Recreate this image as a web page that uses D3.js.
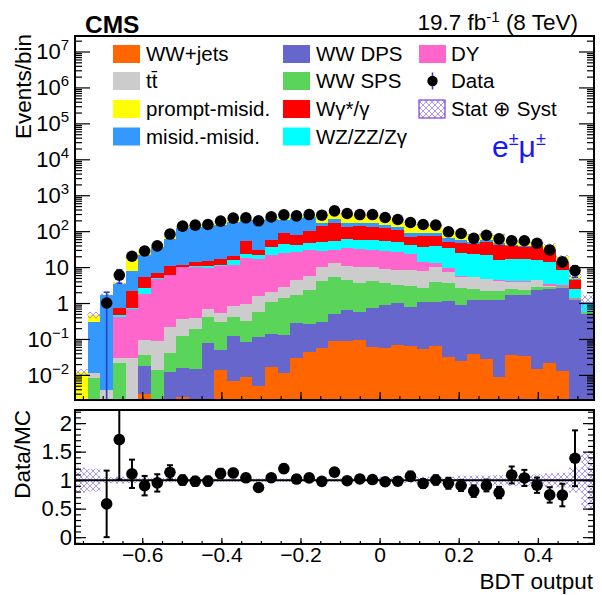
<!DOCTYPE html>
<html><head><meta charset="utf-8">
<script src="https://cdn.jsdelivr.net/npm/d3@7"></script>
<style>
body{margin:0;background:#fff;}
svg text{font-family:"Liberation Sans",Arial,Helvetica,sans-serif;}
</style>
</head><body>
<svg id="c" width="602" height="595"></svg>
<script>
// ---- binning ----
const binLow = -0.77, binWidth = 0.032, nBins = 41;

// ---- stacked backgrounds (events/bin), bottom -> top ----
const wwJets = [0,0,0,0,0,0.003,0,0,0.0025,0,0,0.0135,0.0069,0.0088,0.005,0.0167,0.0114,0.03,0.044,0.055,0.088,0.085,0.092,0.058,0.055,0.068,0.065,0.051,0.065,0.032,0.024,0.038,0.028,0.009,0.035,0.033,0.015,0.021,0.0125,0.0022,0];
const wwDPS = [0,0,0,0,0,0.0148,0,0.0123,0.0131,0.0147,0.079,0.0365,0.113,0.076,0.11,0.118,0.119,0.25,0.216,0.25,0.41,0.535,0.478,0.66,0.835,0.92,0.735,1.05,0.99,1.14,0.87,1.18,1.19,1.21,1.65,1.66,2.285,2.38,2.54,1.2,0.5];
const wwSPS = [0,0.008,0,0.022,0,0.018,0.0138,0.0277,0.1045,0.175,0.341,0.24,0.28,0.235,0.455,0.955,1.22,1.39,2.04,3.7,4.9,3.88,3.13,3.38,2.61,2.17,2.16,1.45,2.85,2.33,1.66,1.18,0.93,0.93,0.71,0.61,0.42,0.32,0.17,0.08,0.05];
const ttbar = [0,0.003,0.0038,0.007,0.029,0.057,0.076,0.18,0.24,0.19,0.27,0.23,0.43,0.64,1.04,0.9,1.49,2.73,3.3,6.0,7.8,6.2,6.5,5.7,5.1,5.14,5.34,5.35,5.9,3.9,2.85,2.8,2.45,2.05,1.5,1.6,1.63,0.24,0.12,0.05,0];
const dy = [0,0,0,0.37,0.67,1.65,4.71,5.78,9.44,9.42,8.9,10.1,10.6,17.5,14.7,19.5,22.2,22.3,24.1,18,16.4,22.3,21.4,19.8,19.8,18.4,14.7,6.2,3.4,2.2,0.2,0.2,0.2,0.15,0.2,0.1,0.15,0.34,0.32,0.05,0];
const wzzz = [0,0,0,0.07,0.05,0.81,0.2,0.1,0.3,0.8,1.0,0.8,4.2,4.5,5.2,15,18.5,14.1,15.8,22,23.1,25.7,24.6,26.6,24.3,23.9,17.8,22.6,25.1,23.4,18.4,17.6,16.7,11.25,12.2,12.3,11.1,10.8,5.1,1.15,0.45];
const wgamma = [0,0,0,0.24,1.4,2.85,1.9,4.5,1.3,3.5,4.1,4.9,4.6,29.7,8.2,19.5,46,36.8,54.5,86,117,73.3,79.8,75.8,66.3,56.4,28.9,35.9,34.3,17.6,21.4,20.6,29.1,25.2,22,20.4,22.7,15.5,5.8,1.85,0];
const misidMisid = [0,0.29,1.65,2.7,5.75,16.6,30.1,49.4,113.6,118,125,133.7,160,147,170,159,120.5,157.4,155,34,42,33,34,33,30,27,17,18,18,13,11,5,6,5,1.7,2,1.7,1.4,0.9,0.4,0.05];
const promptMisid = [0.012,0.17,0.06,0.1,10.1,9,4,13,13,18,16,20,24,26,23,25,27,27,24,114,110,148,114,122,98,81,76,72,56,38,38.5,29.4,28.4,32.2,9.5,13.3,10.5,9.5,4,1.0,0.05];

// ---- observed data (events/bin) ----
const dataCounts = [0,0,1,6,20,28,39,83,138,147,153,190,230,235,194,250,285,267,290,278,367,310,290,290,240,211,174,153,147,96,86,63,77,61,54,54,46,30,14,8,0];
// ---- relative stat (+) syst uncertainty on the total prediction ----
const relErr = [0.22,0.2,0.05,0.06,0.05,0.04,0.04,0.04,0.03,0.03,0.03,0.03,0.03,0.03,0.03,0.03,0.03,0.03,0.03,0.03,0.03,0.04,0.04,0.07,0.06,0.05,0.05,0.06,0.05,0.06,0.08,0.08,0.08,0.09,0.1,0.1,0.1,0.12,0.13,0.22,0.5];

// ---- ticks / labels ----
const xTicks = [-0.6,-0.4,-0.2,0,0.2,0.4];
const yExps = [-2,-1,0,1,2,3,4,5,6,7];
const ratioTicks = [0,0.5,1,1.5,2];
const ratioTickLabels = ["0","0.5","1","1.5","2"];

const keys = ["wwjets","dps","sps","ttbar","dy","vv","wg","mm","pm"];
const seriesVals = [wwJets,wwDPS,wwSPS,ttbar,dy,wzzz,wgamma,misidMisid,promptMisid];
const colors = {wwjets:"#ff6600",dps:"#6666cc",sps:"#5ad55a",ttbar:"#cccccc",dy:"#ff66cc",vv:"#00ffff",wg:"#ff0000",mm:"#3399ff",pm:"#ffff00"};

const svg = d3.select("#c");
svg.append("rect").attr("width",602).attr("height",595).attr("fill","#fff");
const L=75,R=594,T=36,B=400,RT=410,RB=544;
const FONT = "Liberation Sans, Arial, sans-serif";

const x = d3.scaleLinear().domain([binLow, binLow+nBins*binWidth]).range([L,R]);
const y = d3.scaleLog().domain([0.002,2.7e7]).range([B,T]).clamp(true);
const yr = d3.scaleLinear().domain([-0.12,2.23]).range([RB,RT]);

const defs = svg.append("defs");
defs.append("clipPath").attr("id","mainClip").append("rect").attr("x",L).attr("y",T).attr("width",R-L).attr("height",B-T);
defs.append("clipPath").attr("id","ratioClip").append("rect").attr("x",L).attr("y",RT).attr("width",R-L).attr("height",RB-RT);
const pat = defs.append("pattern").attr("id","hatch").attr("patternUnits","userSpaceOnUse").attr("width",6).attr("height",6);
pat.append("path").attr("d","M0,0L6,6M6,0L0,6M-1,5L1,7M5,-1L7,1").attr("stroke","#a58cf0").attr("stroke-width",0.9).attr("fill","none");

const rows = d3.range(nBins).map(i=>{const r={i}; keys.forEach((k,j)=>r[k]=seriesVals[j][i]); return r;});
const stacked = d3.stack().keys(keys)(rows);
const total = rows.map((r,i)=>stacked[stacked.length-1][i][1]);

const edge = i => x(binLow + i*binWidth);

// stacked histogram
const gS = svg.append("g").attr("clip-path","url(#mainClip)");
stacked.forEach(s=>{
  gS.append("g").attr("fill",colors[s.key]).selectAll("rect")
    .data(s.filter(d=>d[1]>d[0])).join("rect")
    .attr("shape-rendering","crispEdges")
    .attr("x",d=>edge(d.data.i))
    .attr("width",d=>edge(d.data.i+1)-edge(d.data.i))
    .attr("y",d=>y(d[1]))
    .attr("height",d=>(d[0]>0?y(d[0]):B)-y(d[1]));
});
// uncertainty band (main)
gS.append("g").selectAll("rect").data(d3.range(nBins).filter(i=>total[i]>0)).join("rect")
  .attr("x",i=>edge(i)).attr("width",i=>edge(i+1)-edge(i))
  .attr("y",i=>y(total[i]*(1+relErr[i])))
  .attr("height",i=>y(total[i]*(1-relErr[i]))-y(total[i]*(1+relErr[i])))
  .attr("fill","url(#hatch)");

// data points (main)
const ptsIdx = d3.range(nBins).filter(i=>dataCounts[i]>0);
const cx = i => x(binLow+(i+0.5)*binWidth);
const gD = svg.append("g").attr("clip-path","url(#mainClip)");
ptsIdx.forEach(i=>{
  const n=dataCounts[i], e=Math.sqrt(n);
  const yt=y(n+e), yb=(n-e)>0?y(n-e):B;
  gD.append("line").attr("x1",cx(i)).attr("x2",cx(i)).attr("y1",yt).attr("y2",yb).attr("stroke","#2a3fc8").attr("stroke-width",1.6);
  gD.append("line").attr("x1",cx(i)-3).attr("x2",cx(i)+3).attr("y1",yt).attr("y2",yt).attr("stroke","#2a3fc8").attr("stroke-width",1.6);
  if(n-e>0) gD.append("line").attr("x1",cx(i)-3).attr("x2",cx(i)+3).attr("y1",yb).attr("y2",yb).attr("stroke","#2a3fc8").attr("stroke-width",1.6);
});
gD.selectAll("circle").data(ptsIdx).join("circle").attr("cx",cx).attr("cy",i=>y(dataCounts[i])).attr("r",5.8).attr("fill","#000");

// ---- main axes ----
const minorY=[]; for(let k=-3;k<=7;k++) for(let m=2;m<=9;m++){const v=m*Math.pow(10,k); if(v>0.002&&v<2.7e7) minorY.push(v);}
const majorY = yExps.map(e=>Math.pow(10,e));
function styleAxis(g){ g.select(".domain").remove(); g.selectAll(".tick line").attr("stroke","#000").attr("stroke-width",1.2); }
svg.append("g").attr("transform",`translate(${L},0)`).call(d3.axisLeft(y).tickValues(majorY).tickSize(-15).tickFormat("")).call(styleAxis);
svg.append("g").attr("transform",`translate(${L},0)`).call(d3.axisLeft(y).tickValues(minorY).tickSize(-7).tickFormat("")).call(styleAxis);
svg.append("g").attr("transform",`translate(${R},0)`).call(d3.axisRight(y).tickValues(majorY).tickSize(-15).tickFormat("")).call(styleAxis);
svg.append("g").attr("transform",`translate(${R},0)`).call(d3.axisRight(y).tickValues(minorY).tickSize(-7).tickFormat("")).call(styleAxis);
const minorX = d3.range(-0.75,0.5401,0.05).map(v=>Math.round(v*100)/100);
svg.append("g").attr("transform",`translate(0,${B})`).call(d3.axisBottom(x).tickValues(xTicks).tickSize(-8).tickFormat("")).call(styleAxis);
svg.append("g").attr("transform",`translate(0,${B})`).call(d3.axisBottom(x).tickValues(minorX).tickSize(-4).tickFormat("")).call(styleAxis);

// y labels: 10^n, with "1" and "10" plain
const yl = svg.append("g");
yExps.forEach(e=>{
  const t = yl.append("text").attr("x",69).attr("y",y(Math.pow(10,e))+8).attr("text-anchor","end").attr("font-size",22);
  if(e===0){ t.text("1"); }
  else if(e===1){ t.text("10"); }
  else {
    t.append("tspan").text("10");
    t.append("tspan").attr("font-size",15).attr("dy",-9).text(e<0?"\u2212"+(-e):String(e));
  }
});

svg.append("rect").attr("x",L).attr("y",T).attr("width",R-L).attr("height",B-T).attr("fill","none").attr("stroke","#000").attr("stroke-width",2);

// ---- ratio panel ----
const gR = svg.append("g").attr("clip-path","url(#ratioClip)");
gR.selectAll("rect").data(d3.range(nBins).filter(i=>total[i]>0)).join("rect")
  .attr("x",i=>edge(i)).attr("width",i=>edge(i+1)-edge(i))
  .attr("y",i=>yr(1+relErr[i])).attr("height",i=>yr(1-relErr[i])-yr(1+relErr[i]))
  .attr("fill","url(#hatch)");
gR.append("line").attr("x1",L).attr("x2",R).attr("y1",yr(1)).attr("y2",yr(1)).attr("stroke","#000").attr("stroke-width",2);
ptsIdx.forEach(i=>{
  const r=dataCounts[i]/total[i], e=Math.sqrt(dataCounts[i])/total[i];
  const yt=yr(r+e), yb=yr(r-e);
  gR.append("line").attr("x1",cx(i)).attr("x2",cx(i)).attr("y1",yt).attr("y2",yb).attr("stroke","#000").attr("stroke-width",2);
  [yt,yb].forEach(v=>gR.append("line").attr("x1",cx(i)-3).attr("x2",cx(i)+3).attr("y1",v).attr("y2",v).attr("stroke","#000").attr("stroke-width",2));
  gR.append("circle").attr("cx",cx(i)).attr("cy",yr(r)).attr("r",5.8).attr("fill","#000");
});
const minorR = d3.range(-0.1,2.21,0.1).map(v=>Math.round(v*10)/10);
svg.append("g").attr("transform",`translate(${L},0)`).call(d3.axisLeft(yr).tickValues(ratioTicks).tickSize(-11).tickPadding(3).tickFormat((d,i)=>ratioTickLabels[i])).call(styleAxis)
  .call(g=>g.selectAll("text").attr("font-size",22).attr("font-family",FONT).attr("fill","#000"));
svg.append("g").attr("transform",`translate(${L},0)`).call(d3.axisLeft(yr).tickValues(minorR).tickSize(-6).tickFormat("")).call(styleAxis);
svg.append("g").attr("transform",`translate(${R},0)`).call(d3.axisRight(yr).tickValues(ratioTicks).tickSize(-11).tickFormat("")).call(styleAxis);
svg.append("g").attr("transform",`translate(${R},0)`).call(d3.axisRight(yr).tickValues(minorR).tickSize(-6).tickFormat("")).call(styleAxis);
svg.append("g").attr("transform",`translate(0,${RB})`).call(d3.axisBottom(x).tickValues(xTicks).tickSize(-6).tickPadding(3).tickFormat(d=>d===0?"0":(d<0?"\u2212":"")+Math.abs(d).toFixed(1))).call(styleAxis)
  .call(g=>g.selectAll("text").attr("font-size",21).attr("font-family",FONT).attr("fill","#000"));
svg.append("g").attr("transform",`translate(0,${RB})`).call(d3.axisBottom(x).tickValues(minorX).tickSize(-3).tickFormat("")).call(styleAxis);
svg.append("rect").attr("x",L).attr("y",RT).attr("width",R-L).attr("height",RB-RT).attr("fill","none").attr("stroke","#000").attr("stroke-width",2);

// ---- titles ----
svg.append("text").attr("x",85).attr("y",33).attr("font-size",24.5).attr("font-weight","bold").text("CMS");
const lumi = svg.append("text").attr("x",578).attr("y",30).attr("text-anchor","end").attr("font-size",22.5);
lumi.append("tspan").text("19.7 fb");
lumi.append("tspan").attr("font-size",15).attr("dy",-8).text("-1");
lumi.append("tspan").attr("dy",8).text(" (8 TeV)");
svg.append("text").attr("transform","translate(31,34) rotate(-90)").attr("text-anchor","end").attr("font-size",22.5).text("Events/bin");
svg.append("text").attr("transform","translate(30,410) rotate(-90)").attr("text-anchor","end").attr("font-size",22.5).text("Data/MC");
svg.append("text").attr("x",593).attr("y",589).attr("text-anchor","end").attr("font-size",22.5).text("BDT output");
const em = svg.append("text").attr("x",492).attr("y",157).attr("font-size",30).attr("fill","#1818ff");
em.append("tspan").text("e");
em.append("tspan").attr("font-size",18).attr("dy",-12).text("\u00b1");
em.append("tspan").attr("dy",12).text("\u03bc");
em.append("tspan").attr("font-size",18).attr("dy",-12).text("\u00b1");

// ---- legend ----
const legendRows = [54,81,109,136.5];
const legendCols = [{sx:113,tx:146},{sx:283,tx:316},{sx:419,tx:451}];
const legendItems = [
  {c:0,r:0,key:"wwjets",label:"WW+jets"},
  {c:0,r:1,key:"ttbar",label:"tt\u0304"},
  {c:0,r:2,key:"pm",label:"prompt-misid."},
  {c:0,r:3,key:"mm",label:"misid.-misid."},
  {c:1,r:0,key:"dps",label:"WW DPS"},
  {c:1,r:1,key:"sps",label:"WW SPS"},
  {c:1,r:2,key:"wg",label:"W\u03b3*/\u03b3"},
  {c:1,r:3,key:"vv",label:"WZ/ZZ/Z\u03b3"},
  {c:2,r:0,key:"dy",label:"DY"},
  {c:2,r:1,key:"data",label:"Data"},
  {c:2,r:2,key:"band",label:"Stat \u2295 Syst"}
];
const gL = svg.append("g");
legendItems.forEach(it=>{
  const col=legendCols[it.c], yc=legendRows[it.r];
  if(it.key==="data"){
    gL.append("line").attr("x1",col.sx+13.5).attr("x2",col.sx+13.5).attr("y1",yc-8.5).attr("y2",yc+8.5).attr("stroke","#2a3fc8").attr("stroke-width",1.6);
    gL.append("circle").attr("cx",col.sx+13.5).attr("cy",yc).attr("r",5.2).attr("fill","#000");
  } else if(it.key==="band"){
    gL.append("rect").attr("x",col.sx).attr("y",yc-9).attr("width",26).attr("height",18).attr("fill","url(#hatch)").attr("stroke","#7a3fd8").attr("stroke-width",1.2);
  } else {
    gL.append("rect").attr("x",col.sx).attr("y",yc-9).attr("width",27).attr("height",18).attr("fill",colors[it.key]);
  }
  gL.append("text").attr("x",col.tx).attr("y",yc+7).attr("font-size",20.5).text(it.label);
});
</script>
</body></html>
